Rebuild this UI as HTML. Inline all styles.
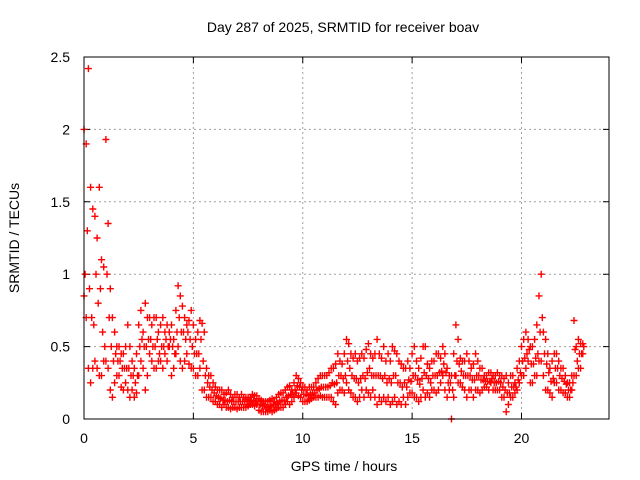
<!DOCTYPE html>
<html><head><meta charset="utf-8">
<style>
html,body{margin:0;padding:0;background:#fff;}
svg{display:block;font-family:"Liberation Sans",sans-serif;}
</style></head>
<body>
<svg id="chart" width="640" height="480" viewBox="0 0 640 480" xmlns="http://www.w3.org/2000/svg">
<rect width="640" height="480" fill="#fff"/>
<text x="343" y="32" text-anchor="middle" font-size="14" fill="#000">Day 287 of 2025, SRMTID for receiver boav</text>
<text transform="translate(19,238) rotate(-90)" text-anchor="middle" font-size="14" fill="#000">SRMTID / TECUs</text>
<text x="344" y="471" text-anchor="middle" font-size="14" fill="#000">GPS time / hours</text>
<g id="grid"></g>
<g id="ticks"></g>
<g id="marks"></g>
<rect x="84" y="57" width="525" height="362" fill="none" stroke="#000" stroke-width="1"/>
</svg>
<script>
const xTicks = [0, 5, 10, 15, 20];
const yTicks = [0, 0.5, 1, 1.5, 2, 2.5];
const yTickLabels = ["0", "0.5", "1", "1.5", "2", "2.5"];
const startHour = 0;
const midStartHour = 0.05;
const stepHour = 0.1;
const upperValues = [
2.0,1.9,2.42,1.6,1.45,1.4,1.25,1.6,1.1,1.05,
1.93,1.35,0.9,0.7,0.6,0.5,0.5,0.45,0.45,0.5,
0.65,0.5,0.4,0.35,0.45,0.65,0.75,0.6,0.8,0.7,
0.7,0.65,0.7,0.7,0.6,0.65,0.7,0.6,0.65,0.6,
0.65,0.55,0.75,0.92,0.85,0.78,0.7,0.65,0.68,0.75,
0.65,0.55,0.6,0.68,0.66,0.6,0.35,0.3,0.3,0.25,
0.22,0.2,0.2,0.2,0.17,0.18,0.2,0.17,0.15,0.17,
0.17,0.15,0.17,0.15,0.15,0.15,0.15,0.17,0.16,0.16,
0.14,0.13,0.12,0.12,0.12,0.13,0.14,0.12,0.15,0.17,
0.18,0.18,0.2,0.22,0.23,0.2,0.25,0.3,0.28,0.25,
0.22,0.22,0.2,0.22,0.22,0.22,0.25,0.28,0.3,0.3,
0.3,0.3,0.32,0.35,0.35,0.38,0.45,0.4,0.38,0.45,
0.55,0.52,0.45,0.42,0.45,0.4,0.42,0.45,0.42,0.48,
0.52,0.45,0.42,0.45,0.55,0.45,0.42,0.5,0.4,0.45,
0.4,0.5,0.47,0.45,0.4,0.38,0.35,0.35,0.4,0.35,
0.45,0.5,0.4,0.35,0.42,0.5,0.5,0.38,0.35,0.4,
0.4,0.45,0.45,0.42,0.5,0.45,0.35,0.3,0.3,0.45,
0.65,0.55,0.42,0.4,0.4,0.45,0.4,0.35,0.38,0.45,
0.4,0.35,0.35,0.3,0.3,0.32,0.32,0.3,0.3,0.32,
0.3,0.3,0.28,0.3,0.25,0.3,0.3,0.25,0.35,0.4,
0.5,0.55,0.6,0.55,0.5,0.5,0.55,0.65,0.85,1.0,
0.6,0.55,0.45,0.35,0.4,0.45,0.45,0.4,0.35,0.35,
0.3,0.25,0.25,0.3,0.68,0.5,0.55,0.52,0.52];
const middleValues = [
1.0,1.3,0.9,0.7,0.65,1.0,0.8,0.9,0.6,0.5,
1.0,0.7,0.5,0.4,0.45,0.4,0.4,0.35,0.35,0.35,
0.35,0.3,0.3,0.25,0.3,0.5,0.55,0.5,0.5,0.55,
0.55,0.5,0.5,0.55,0.45,0.5,0.5,0.55,0.5,0.55,
0.5,0.45,0.6,0.7,0.6,0.6,0.55,0.6,0.55,0.5,
0.45,0.45,0.45,0.55,0.4,0.3,0.25,0.22,0.2,0.18,
0.16,0.15,0.14,0.13,0.13,0.12,0.13,0.12,0.12,0.12,
0.12,0.12,0.12,0.12,0.12,0.12,0.13,0.13,0.12,0.12,
0.1,0.09,0.09,0.08,0.08,0.09,0.1,0.1,0.11,0.12,
0.13,0.13,0.15,0.16,0.17,0.17,0.2,0.23,0.22,0.2,
0.17,0.17,0.16,0.17,0.18,0.18,0.2,0.21,0.22,0.22,
0.22,0.22,0.23,0.25,0.24,0.25,0.3,0.3,0.28,0.3,
0.4,0.35,0.3,0.28,0.28,0.25,0.28,0.3,0.28,0.32,
0.35,0.3,0.3,0.3,0.3,0.3,0.28,0.3,0.25,0.28,
0.25,0.3,0.3,0.25,0.25,0.22,0.25,0.22,0.27,0.26,
0.3,0.3,0.27,0.24,0.28,0.32,0.3,0.28,0.25,0.3,
0.3,0.3,0.32,0.33,0.38,0.32,0.25,0.25,0.2,0.3,
0.4,0.38,0.33,0.3,0.3,0.3,0.3,0.27,0.27,0.3,
0.3,0.27,0.27,0.26,0.26,0.26,0.28,0.25,0.25,0.26,
0.25,0.22,0.2,0.18,0.18,0.22,0.22,0.22,0.27,0.32,
0.4,0.42,0.45,0.48,0.38,0.38,0.42,0.45,0.6,0.7,
0.45,0.38,0.32,0.26,0.28,0.35,0.35,0.3,0.28,0.26,
0.24,0.2,0.2,0.25,0.48,0.4,0.45,0.45,0.5];
const lowerValues = [
0.85,0.7,0.35,0.25,0.35,0.4,0.35,0.3,0.3,0.4,
0.4,0.35,0.2,0.15,0.25,0.3,0.3,0.22,0.2,0.25,
0.2,0.15,0.2,0.15,0.18,0.3,0.4,0.35,0.2,0.3,
0.45,0.4,0.35,0.35,0.4,0.4,0.35,0.45,0.4,0.5,
0.3,0.35,0.45,0.5,0.4,0.35,0.4,0.45,0.38,0.35,
0.35,0.3,0.3,0.35,0.2,0.2,0.15,0.15,0.15,0.12,
0.12,0.1,0.1,0.08,0.1,0.08,0.08,0.07,0.08,0.08,
0.07,0.08,0.08,0.08,0.08,0.09,0.1,0.1,0.09,0.1,
0.06,0.05,0.05,0.05,0.05,0.06,0.05,0.06,0.07,0.08,
0.08,0.08,0.1,0.12,0.1,0.12,0.15,0.18,0.16,0.15,
0.12,0.12,0.12,0.13,0.14,0.15,0.15,0.15,0.16,0.15,
0.15,0.15,0.15,0.15,0.12,0.1,0.18,0.2,0.2,0.18,
0.25,0.2,0.18,0.15,0.15,0.12,0.15,0.2,0.15,0.2,
0.18,0.15,0.2,0.15,0.1,0.15,0.12,0.15,0.12,0.15,
0.1,0.12,0.15,0.1,0.12,0.1,0.15,0.1,0.15,0.18,
0.18,0.15,0.15,0.12,0.15,0.2,0.15,0.18,0.15,0.2,
0.2,0.18,0.2,0.25,0.3,0.2,0.15,0.2,0.0,0.15,
0.3,0.25,0.25,0.22,0.2,0.15,0.2,0.2,0.15,0.2,
0.2,0.18,0.2,0.22,0.22,0.2,0.25,0.2,0.2,0.2,
0.2,0.15,0.15,0.05,0.1,0.15,0.15,0.18,0.2,0.25,
0.3,0.3,0.35,0.4,0.25,0.25,0.3,0.3,0.4,0.4,
0.3,0.2,0.2,0.18,0.15,0.25,0.25,0.2,0.2,0.18,
0.18,0.15,0.15,0.2,0.3,0.3,0.35,0.35,0.45];

const NS = "http://www.w3.org/2000/svg";
const X0 = 84, X1 = 609, Y0 = 419, Y1 = 57;
const xMax = 24, yMax = 2.5;
function xs(v){ return X0 + (X1 - X0) * v / xMax; }
function ys(v){ return Y0 - (Y0 - Y1) * v / yMax; }
function mk(tag, attrs){ const e = document.createElementNS(NS, tag); for (const k in attrs) e.setAttribute(k, attrs[k]); return e; }

const grid = document.getElementById('grid');
const ticks = document.getElementById('ticks');
xTicks.forEach((t) => {
  const x = xs(t);
  if (t > 0) {
    const g = mk('line', {x1:x, x2:x, y1:Y1, y2:Y0, stroke:'#a0a0a0', 'stroke-dasharray':'2,3'});
    
    
    grid.appendChild(g);
  }
  const tk = mk('path', {d:`M${x},${Y0}v-6M${x},${Y1}v6`, stroke:'#000'});
  
  
  ticks.appendChild(tk);
  const lb = mk('text', {x:x, y:Y0 + 24, 'text-anchor':'middle', 'font-size':14});
  lb.textContent = String(t);
  
  
  ticks.appendChild(lb);
});
yTicks.forEach((t, i) => {
  const y = ys(t);
  if (t > 0 && t < yMax) {
    const g = mk('line', {x1:X0, x2:X1, y1:y, y2:y, stroke:'#a0a0a0', 'stroke-dasharray':'2,3'});
    
    
    grid.appendChild(g);
  }
  const tk = mk('path', {d:`M${X0},${y}h6M${X1},${y}h-6`, stroke:'#000'});
  
  
  ticks.appendChild(tk);
  const lb = mk('text', {x:X0 - 14, y:y + 5, 'text-anchor':'end', 'font-size':14});
  lb.textContent = yTickLabels[i];
  
  
  ticks.appendChild(lb);
});

const marks = document.getElementById('marks');
function drawSeries(vals, t0, name){
  let d = '';
  vals.forEach((v, i) => {
    const x = xs(t0 + i * stepHour), y = ys(v);
    d += `M${(x-3.5).toFixed(1)},${y.toFixed(1)}h7M${x.toFixed(1)},${(y-3.5).toFixed(1)}v7`;
  });
  const p = mk('path', {d:d, stroke:'#ff0000', 'stroke-width':1.4, fill:'none'});
  
  
  marks.appendChild(p);
}
drawSeries(upperValues, startHour, 'srmtid-upper-points');
drawSeries(middleValues, midStartHour, 'srmtid-middle-points');
drawSeries(lowerValues, startHour, 'srmtid-lower-points');
</script>
</body></html>
